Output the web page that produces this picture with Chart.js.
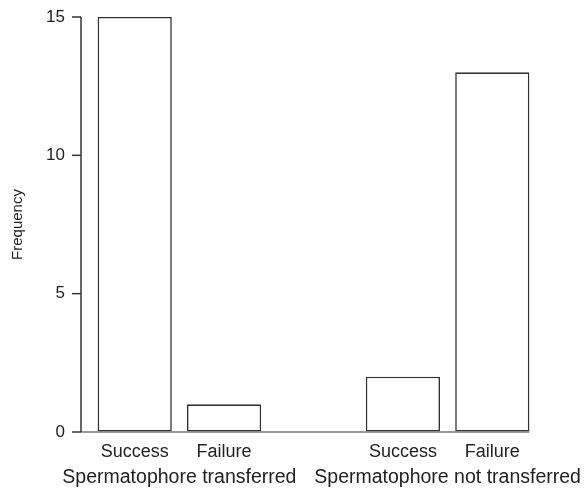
<!DOCTYPE html>
<html>
<head>
<meta charset="utf-8">
<script src="https://cdn.jsdelivr.net/npm/chart.js@4/dist/chart.umd.min.js"></script>
<style>
  html, body { margin: 0; padding: 0; background: #fff; }
  #wrap { width: 588px; height: 491px; }
</style>
</head>
<body>
<div id="wrap"><canvas id="c" width="588" height="491"></canvas></div>
<script>
// ---- data ----
const categories = ['Success', 'Failure', '', 'Success', 'Failure'];
const frequency = [15, 1, null, 2, 13];
const groupLabels = ['Spermatophore transferred', 'Spermatophore not transferred'];
const groupMembers = [[0, 1], [3, 4]];
const yTicks = [0, 5, 10, 15];
const yTitle = 'Frequency';

const FONT = '"Liberation Sans", Arial, Helvetica, sans-serif';
const TEXT = '#222';
const LINE = '#333';

const axisPlugin = {
  id: 'axisPlugin',
  afterDatasetsDraw(chart) {
    const ctx = chart.ctx;
    const y = chart.scales.y;
    const x = chart.scales.x;
    const axisX = chart.chartArea.left - 9;
    const meta = chart.getDatasetMeta(0);
    const lastBar = meta.data[meta.data.length - 1];
    const right = lastBar.x + lastBar.width / 2;
    ctx.save();
    // baseline
    ctx.strokeStyle = '#777';
    ctx.lineWidth = 1.5;
    ctx.beginPath();
    ctx.moveTo(axisX, y.getPixelForValue(0));
    ctx.lineTo(right, y.getPixelForValue(0));
    ctx.stroke();
    // y axis line
    ctx.strokeStyle = LINE;
    ctx.beginPath();
    ctx.moveTo(axisX, y.getPixelForValue(yTicks[0]));
    ctx.lineTo(axisX, y.getPixelForValue(yTicks[yTicks.length - 1]));
    ctx.stroke();
    // tick marks
    yTicks.forEach(v => {
      const py = y.getPixelForValue(v);
      ctx.beginPath();
      ctx.moveTo(axisX - 9, py);
      ctx.lineTo(axisX, py);
      ctx.stroke();
    });
    // group labels
    ctx.fillStyle = TEXT;
    ctx.font = '19.5px ' + FONT;
    ctx.textAlign = 'center';
    ctx.textBaseline = 'middle';
    groupLabels.forEach((g, i) => {
      const xs = groupMembers[i].map(k => x.getPixelForValue(k));
      const cx = xs.reduce((a, b) => a + b, 0) / xs.length;
      ctx.fillText(g, cx, 478);
    });
    ctx.restore();
  }
};

new Chart(document.getElementById('c'), {
  type: 'bar',
  data: {
    labels: categories,
    datasets: [{
      data: frequency,
      backgroundColor: '#fff',
      borderColor: LINE,
      borderWidth: 1.6,
      borderSkipped: false,
      barPercentage: 0.83,
      categoryPercentage: 1.0
    }]
  },
  options: {
    responsive: false,
    animation: false,
    devicePixelRatio: 1,
    layout: { padding: { top: 17, right: 51, bottom: 0, left: 0 } },
    plugins: { legend: { display: false }, tooltip: { enabled: false } },
    scales: {
      x: {
        type: 'category',
        offset: true,
        grid: { display: false, drawTicks: false },
        border: { display: false },
        ticks: { color: TEXT, font: { family: FONT, size: 18 }, padding: 9, maxRotation: 0, autoSkip: false },
        afterFit(scale) { scale.height = 59; }
      },
      y: {
        min: 0,
        max: 15,
        afterBuildTicks(scale) { scale.ticks = yTicks.map(v => ({ value: v })); },
        grid: { display: true, drawOnChartArea: false, drawTicks: true, tickLength: 24, color: 'rgba(0,0,0,0)' },
        border: { display: false },
        ticks: { color: TEXT, font: { family: FONT, size: 17 }, padding: 1 },
        title: { display: true, text: yTitle, color: TEXT, font: { family: FONT, size: 15 }, padding: { top: 9, bottom: 0 } },
        afterFit(scale) { scale.width = 90; }
      }
    }
  },
  plugins: [axisPlugin]
});
</script>
</body>
</html>
